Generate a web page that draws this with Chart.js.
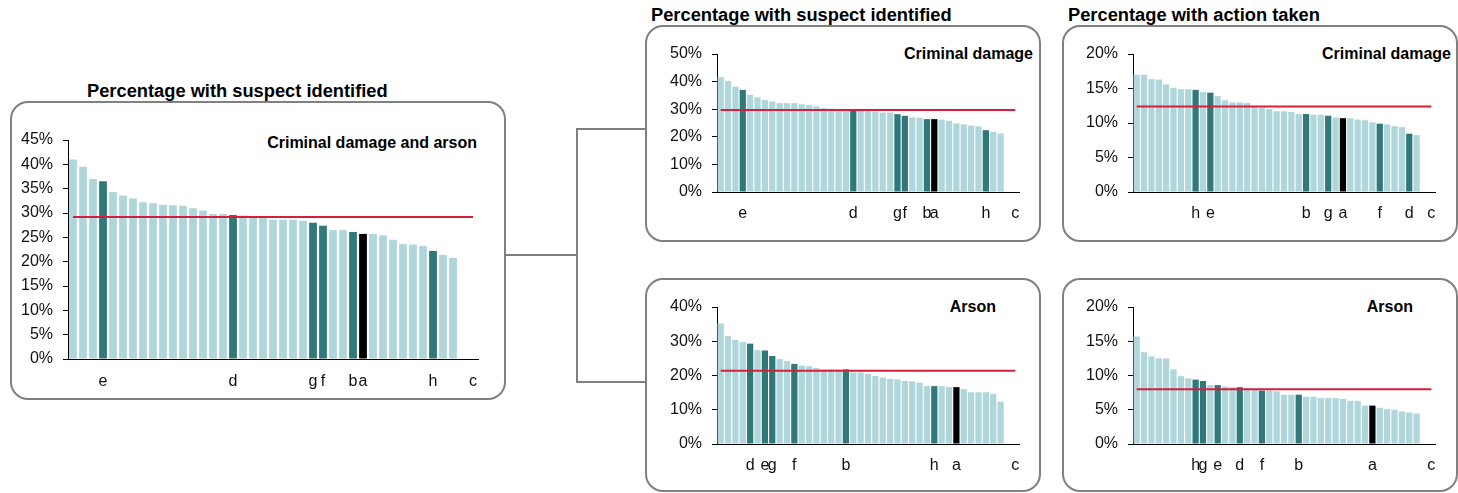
<!DOCTYPE html>
<html><head><meta charset="utf-8">
<script src="https://cdn.jsdelivr.net/npm/chart.js@4.4.1/dist/chart.umd.min.js"></script>
<style>
body{margin:0;width:1458px;height:493px;background:#fff;position:relative;overflow:hidden;font-family:'Liberation Sans',Arial,sans-serif;}
.box{position:absolute;border:2px solid #808080;border-radius:18px;box-sizing:border-box;}
.ln{position:absolute;background:#808080;}
.t{position:absolute;font-weight:bold;font-size:18.3px;line-height:18px;white-space:nowrap;color:#000;}
.s{position:absolute;font-weight:bold;font-size:16px;line-height:16px;white-space:nowrap;color:#000;text-align:right;}
canvas{position:absolute;}
</style></head><body>

<div class="box" style="left:10px;top:101px;width:496px;height:299px;"></div>
<div class="box" style="left:645px;top:25px;width:396px;height:217px;"></div>
<div class="box" style="left:1062px;top:25px;width:396px;height:217px;"></div>
<div class="box" style="left:645px;top:278px;width:396px;height:214px;"></div>
<div class="box" style="left:1062px;top:278px;width:396px;height:214px;"></div>

<div class="ln" style="left:505px;top:254px;width:72px;height:2px;"></div>
<div class="ln" style="left:576px;top:128px;width:2px;height:255px;"></div>
<div class="ln" style="left:576px;top:128px;width:70px;height:2px;"></div>
<div class="ln" style="left:576px;top:381px;width:70px;height:2px;"></div>

<div class="t" style="left:87px;top:82px;">Percentage with suspect identified</div>
<div class="t" style="left:651px;top:6px;">Percentage with suspect identified</div>
<div class="t" style="left:1068px;top:6px;">Percentage with action taken</div>

<div class="s" style="right:981px;top:135px;">Criminal damage and arson</div>
<div class="s" style="right:425px;top:46px;">Criminal damage</div>
<div class="s" style="right:7px;top:46px;">Criminal damage</div>
<div class="s" style="right:462px;top:299px;">Arson</div>
<div class="s" style="right:45px;top:299px;">Arson</div>

<canvas id="c1"></canvas>
<canvas id="c2"></canvas>
<canvas id="c3"></canvas>
<canvas id="c4"></canvas>
<canvas id="c5"></canvas>

<script>
// ---- Data ----
// Panel 1: Criminal damage and arson, % with suspect identified
const cdaLabels = ['','','','e','','','','','','','','','','','','','d','','','','','','','','g','f','','','b','a','','','','','','','h','','','','c'];
const cdaSuspect = [41.0,39.5,37.0,36.5,34.3,33.6,33.0,32.2,32.0,31.7,31.6,31.5,31.0,30.5,29.8,29.8,29.6,29.5,29.3,29.1,28.6,28.6,28.6,28.4,28.0,27.4,26.5,26.5,26.1,25.7,25.7,25.4,24.5,23.6,23.5,23.2,22.2,21.4,20.8,null,null];
const cdaSuspectAvg = 29.2;

// Panel 2: Criminal damage, % with suspect identified
const cdSuspectLabels = ['','','','e','','','','','','','','','','','','','','','d','','','','','','g','f','','','b','a','','','','','','','h','','','','c'];
const cdSuspect = [41.6,40.2,38.2,37.0,35.2,34.3,33.3,32.8,32.2,32.2,32.2,31.8,31.5,31.0,30.4,30.2,30.1,29.9,29.7,29.6,29.6,29.2,28.8,28.8,28.2,27.6,27.0,26.9,26.4,26.4,26.2,25.8,24.8,24.5,24.1,23.8,22.4,21.8,21.2,null,null];
const cdSuspectAvg = 29.7;

// Panel 3: Criminal damage, % with action taken
const cdActionLabels = ['','','','','','','','','h','','e','','','','','','','','','','','','','b','','','g','','a','','','','','f','','','','d','','','c'];
const cdAction = [17.0,17.0,16.35,16.3,15.6,15.1,14.9,14.9,14.8,14.5,14.4,13.9,13.3,13.0,13.0,12.9,12.3,12.25,12.0,11.7,11.7,11.6,11.3,11.3,11.2,11.2,11.05,10.8,10.7,10.7,10.5,10.4,10.1,9.9,9.8,9.55,9.4,8.45,8.25,null,null];
const cdActionAvg = 12.4;

// Panel 4: Arson, % with suspect identified
const arSuspectLabels = ['','','','','d','','e','g','','','f','','','','','','','b','','','','','','','','','','','','h','','','a','','','','','','','','c'];
const arSuspect = [35.2,31.5,30.4,29.8,29.3,27.4,27.3,25.7,24.8,24.2,23.4,22.9,22.7,22.2,21.8,21.8,21.8,21.8,20.9,20.9,20.5,19.9,19.4,19.0,18.9,18.4,18.3,17.9,16.9,16.9,16.9,16.6,16.6,16.0,15.1,15.1,15.1,14.6,12.4,null,null];
const arSuspectAvg = 21.4;

// Panel 5: Arson, % with action taken
const arActionLabels = ['','','','','','','','','h','g','','e','','','d','','','f','','','','','b','','','','','','','','','','a','','','','','','','','c'];
const arAction = [15.7,13.4,12.8,12.5,12.5,10.9,9.9,9.6,9.4,9.2,8.6,8.6,8.4,8.3,8.3,8.1,7.9,7.8,7.8,7.7,7.2,7.2,7.2,6.9,6.9,6.7,6.7,6.7,6.6,6.3,6.3,5.6,5.6,5.3,5.1,5.0,4.75,4.6,4.45,null,null];
const arActionAvg = 8.0;

// ---- Styling ----
const LIGHT = '#afd6da', DARK = '#31787a', BLACK = '#000000', RED = '#d71f3d';
Chart.defaults.font.family = "'Liberation Sans', Arial, sans-serif";
Chart.defaults.font.size = 16;
Chart.defaults.color = '#111';

const YW = 60, XH = 40, PT = 24, PR = 18;

function makeChart(id, area, labels, values, avg, max, step, barPct, xPad) {
  const cv = document.getElementById(id);
  const w = Math.round(area.R - area.L) + YW + PR;
  const h = Math.round(area.B - area.T) + PT + XH;
  cv.width = w; cv.height = h;
  cv.style.left = (area.L - YW) + 'px';
  cv.style.top = (area.T - PT) + 'px';
  cv.style.width = w + 'px'; cv.style.height = h + 'px';
  const colors = labels.map(l => l === 'a' ? BLACK : (l && l !== 'c' ? DARK : LIGHT));
  new Chart(cv, {
    data: {
      labels: labels,
      datasets: [
        { type: 'line', data: labels.map(() => avg), borderColor: RED, borderWidth: 2,
          pointRadius: 0, order: 0, tension: 0 },
        { type: 'bar', data: values, backgroundColor: colors, borderWidth: 0,
          barPercentage: barPct, categoryPercentage: 1, order: 1 }
      ]
    },
    options: {
      responsive: false, animation: false, devicePixelRatio: 1,
      layout: { padding: { top: PT, right: PR, left: 0, bottom: 0 } },
      plugins: { legend: { display: false }, tooltip: { enabled: false } },
      scales: {
        x: {
          offset: true,
          grid: { display: true, drawOnChartArea: false, drawTicks: false },
          border: { display: true, color: '#000', width: 1 },
          ticks: { autoSkip: false, maxRotation: 0, minRotation: 0, padding: xPad, color: '#111' },
          afterFit: s => { s.height = XH; }
        },
        y: {
          min: 0, max: max,
          grid: { drawOnChartArea: false, drawTicks: true, tickLength: 5, color: '#000' },
          border: { display: true, color: '#000', width: 1 },
          ticks: { stepSize: step, padding: 10, color: '#111', callback: v => v + '%' },
          afterFit: s => { s.width = YW; }
        }
      }
    }
  });
}

makeChart('c1', {L:68, T:140, R:478, B:359}, cdaLabels, cdaSuspect, cdaSuspectAvg, 45, 5, 0.78, 13);
makeChart('c2', {L:717, T:53.5, R:1019, B:191.5}, cdSuspectLabels, cdSuspect, cdSuspectAvg, 50, 10, 0.85, 12);
makeChart('c3', {L:1133, T:53.5, R:1435, B:191.5}, cdActionLabels, cdAction, cdActionAvg, 20, 5, 0.85, 12);
makeChart('c4', {L:717, T:307, R:1019, B:444}, arSuspectLabels, arSuspect, arSuspectAvg, 40, 10, 0.85, 12);
makeChart('c5', {L:1133, T:307, R:1435, B:444}, arActionLabels, arAction, arActionAvg, 20, 5, 0.85, 12);
</script>
</body></html>
